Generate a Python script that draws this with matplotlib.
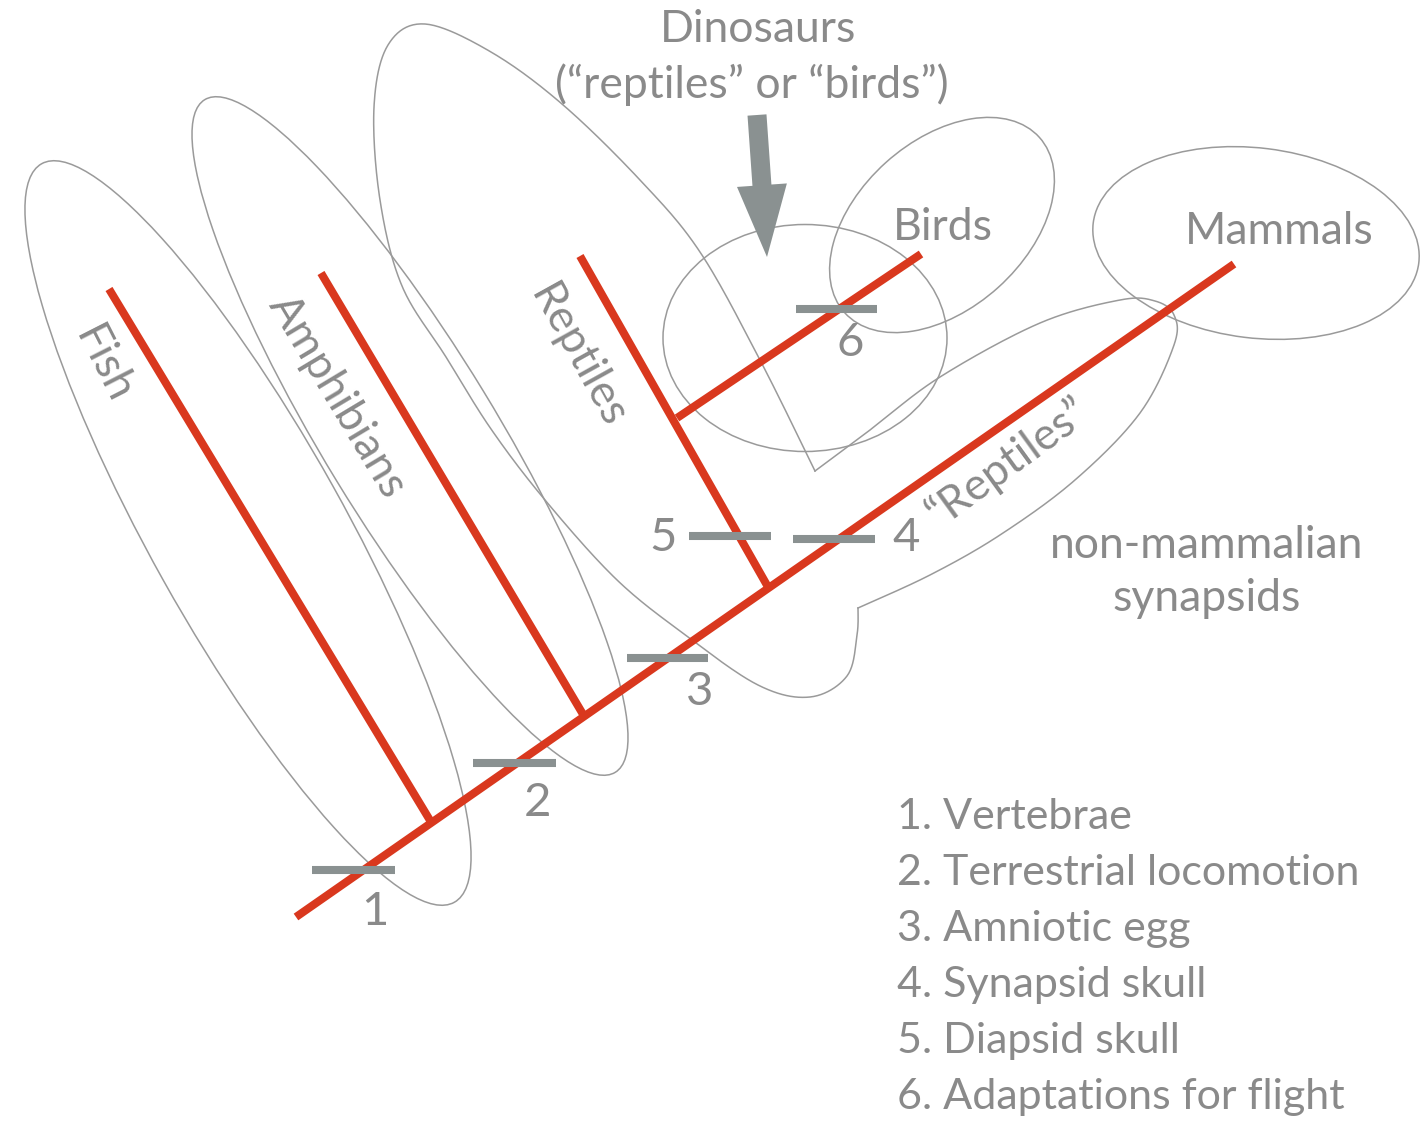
import matplotlib
matplotlib.use("Agg")
import matplotlib.pyplot as plt
from matplotlib.patches import Ellipse, FancyArrow
import numpy as np

plt.rcParams['font.family'] = ['Lato', 'DejaVu Sans']

# tree (image pixel coords, y down)
trunk = [(296, 917), (1234, 264)]
branches = {
    'Fish': [(431, 822), (109, 289)],
    'Amphibians': [(584, 716), (321, 273)],
    'Reptiles': [(768, 587), (580, 256)],
    'Birds': [(677, 418), (921, 254)],
}

# synapomorphy bars: (x0, x1, y), number label position
bar_x0 = [312, 473, 627, 793, 689, 796]
bar_x1 = [395, 556, 708, 875, 771, 877]
bar_y = [870, 763, 658, 539, 536, 309]
num_labels = ['1', '2', '3', '4', '5', '6']
num_x = [375, 538, 700, 906, 663, 850]
num_y = [912, 803, 692, 538, 538, 343]

# group ellipses: center x, center y, width, height, angle
ell_names = ['Fish', 'Amphibians', 'Dinosaurs', 'Birds', 'Mammals']
ell_cx = [248, 410, 805, 942, 1256]
ell_cy = [533, 436, 338, 225, 243]
ell_w = [846, 788, 284, 262, 328]
ell_h = [194, 172, 227, 168, 190]
ell_ang = [60.8, 58.6, 0, -42, 7]

# paraphyletic "reptiles" outline, split at its two corners
outline_a = [(815, 471), (760, 360), (700, 252), (640, 180), (562, 104), (491, 52),
             (425, 24), (388, 45), (374, 107), (380, 200), (402, 286), (446, 357),
             (491, 429), (545, 500), (616, 579), (684, 634), (758, 685), (810, 697),
             (847, 676), (857, 635), (858, 608)]
outline_b = [(858, 608), (930, 575), (1000, 535), (1075, 480), (1140, 413), (1174, 345),
             (1174, 315), (1155, 301), (1120, 300), (1040, 323), (940, 377), (870, 430),
             (815, 471)]

legend_items = ['1. Vertebrae', '2. Terrestrial locomotion', '3. Amniotic egg',
                '4. Synapsid skull', '5. Diapsid skull', '6. Adaptations for flight']

RED = '#d9381e'
BAR = '#8a9191'
LINE = '#9a9a9a'
TXT = '#8a8a8a'


def smooth(pts, n=24):
    pts = np.asarray(pts, float)
    p = np.vstack([pts[0], pts, pts[-1]])
    out = []
    t = np.linspace(0, 1, n, endpoint=False)[:, None]
    for i in range(1, len(p) - 2):
        p0, p1, p2, p3 = p[i - 1], p[i], p[i + 1], p[i + 2]
        out.append(0.5 * (2 * p1 + (-p0 + p2) * t + (2 * p0 - 5 * p1 + 4 * p2 - p3) * t ** 2
                          + (-p0 + 3 * p1 - 3 * p2 + p3) * t ** 3))
    out.append(pts[-1:])
    return np.vstack(out)


fig = plt.figure(figsize=(14.24, 11.21), dpi=100)
ax = fig.add_axes([0, 0, 1, 1])
ax.set_xlim(0, 1424)
ax.set_ylim(1121, 0)
ax.axis('off')

for i in range(len(ell_names)):
    ax.add_patch(Ellipse((ell_cx[i], ell_cy[i]), ell_w[i], ell_h[i], angle=ell_ang[i],
                         fill=False, ec=LINE, lw=1.1))

for seg in (outline_a, outline_b):
    s = smooth(seg)
    ax.plot(s[:, 0], s[:, 1], color=LINE, lw=1.1)

# red tree
ax.plot([trunk[0][0], trunk[1][0]], [trunk[0][1], trunk[1][1]], color=RED, lw=5.8,
        solid_capstyle='butt')
for k, (p0, p1) in branches.items():
    ax.plot([p0[0], p1[0]], [p0[1], p1[1]], color=RED, lw=5.8, solid_capstyle='butt')

for i in range(len(bar_y)):
    ax.plot([bar_x0[i], bar_x1[i]], [bar_y[i], bar_y[i]], color=BAR, lw=5.8,
            solid_capstyle='butt')
    ax.text(num_x[i], num_y[i], num_labels[i], color=TXT, fontsize=34,
            ha='center', va='center')

# arrow to dinosaurs
ax.add_patch(FancyArrow(757, 115, 10, 142, width=19, head_width=50, head_length=72,
                        length_includes_head=True, color=BAR, lw=0))

FS = 32
ax.text(758, 30, 'Dinosaurs', color=TXT, fontsize=FS, ha='center', va='center')
ax.text(752, 85, '(\u201creptiles\u201d or \u201cbirds\u201d)', color=TXT, fontsize=FS,
        ha='center', va='center')
ax.text(943, 228, 'Birds', color=TXT, fontsize=FS, ha='center', va='center')
ax.text(1279, 232, 'Mammals', color=TXT, fontsize=FS, ha='center', va='center')
ax.text(103, 365, 'Fish', color=TXT, fontsize=FS, ha='center', va='center', rotation=-63,
        rotation_mode='anchor')
ax.text(337, 396, 'Amphibians', color=TXT, fontsize=FS, ha='center', va='center',
        rotation=-59, rotation_mode='anchor')
ax.text(578, 356, 'Reptiles', color=TXT, fontsize=FS, ha='center', va='center',
        rotation=-61, rotation_mode='anchor')
ax.text(1008, 462, '\u201cReptiles\u201d', color=TXT, fontsize=FS, ha='center', va='center',
        rotation=36, rotation_mode='anchor')
ax.text(1207, 572, 'non-mammalian\nsynapsids', color=TXT, fontsize=FS, ha='center',
        va='center', linespacing=1.35)

for i, s in enumerate(legend_items):
    ax.text(897, 817 + 56 * i, s, color=TXT, fontsize=31, ha='left', va='center')

fig.savefig('out.png', dpi=100, facecolor='white')
